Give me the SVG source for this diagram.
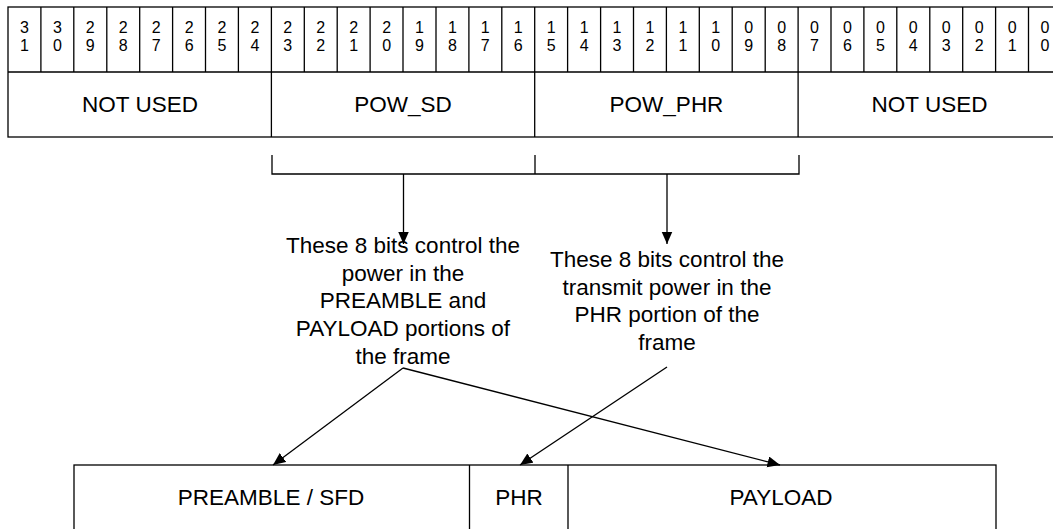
<svg xmlns="http://www.w3.org/2000/svg" width="1053" height="529" viewBox="0 0 1053 529">
<defs>
<marker id="ah" markerUnits="userSpaceOnUse" markerWidth="13" markerHeight="12" refX="12.5" refY="5.5" orient="auto">
<path d="M0,0 L12.5,5.5 L0,11 z" fill="#000"/>
</marker>
<style>
.ln{stroke:#000;stroke-width:1.3;fill:none}
.box{stroke:#000;stroke-width:1.3;fill:#fff}
.d{font-family:"Liberation Sans",Arial,sans-serif;font-size:16px;fill:#000;text-anchor:middle}
.t{font-family:"Liberation Sans",Arial,sans-serif;font-size:22.5px;fill:#000;text-anchor:middle}
</style>
</defs>
<rect width="1053" height="529" fill="#fff"/>
<g id="register">
<rect class="box" x="8" y="7" width="1053.4" height="130"/>
<path class="ln" d="M8,72 H1062 M40.9,7 V72 M73.8,7 V72 M106.8,7 V72 M139.7,7 V72 M172.6,7 V72 M205.5,7 V72 M238.4,7 V72 M271.4,7 V137 M304.3,7 V72 M337.2,7 V72 M370.1,7 V72 M403,7 V72 M436,7 V72 M468.9,7 V72 M501.8,7 V72 M534.7,7 V137 M567.6,7 V72 M600.6,7 V72 M633.5,7 V72 M666.4,7 V72 M699.3,7 V72 M732.2,7 V72 M765.2,7 V72 M798.1,7 V137 M831,7 V72 M863.9,7 V72 M896.8,7 V72 M929.8,7 V72 M962.7,7 V72 M995.6,7 V72 M1028.5,7 V72"/>
<g class="d">
<text x="24.5" y="32.5">3</text><text x="24.5" y="50.5">1</text>
<text x="57.4" y="32.5">3</text><text x="57.4" y="50.5">0</text>
<text x="90.3" y="32.5">2</text><text x="90.3" y="50.5">9</text>
<text x="123.2" y="32.5">2</text><text x="123.2" y="50.5">8</text>
<text x="156.1" y="32.5">2</text><text x="156.1" y="50.5">7</text>
<text x="189.1" y="32.5">2</text><text x="189.1" y="50.5">6</text>
<text x="222" y="32.5">2</text><text x="222" y="50.5">5</text>
<text x="254.9" y="32.5">2</text><text x="254.9" y="50.5">4</text>
<text x="287.8" y="32.5">2</text><text x="287.8" y="50.5">3</text>
<text x="320.7" y="32.5">2</text><text x="320.7" y="50.5">2</text>
<text x="353.7" y="32.5">2</text><text x="353.7" y="50.5">1</text>
<text x="386.6" y="32.5">2</text><text x="386.6" y="50.5">0</text>
<text x="419.5" y="32.5">1</text><text x="419.5" y="50.5">9</text>
<text x="452.4" y="32.5">1</text><text x="452.4" y="50.5">8</text>
<text x="485.3" y="32.5">1</text><text x="485.3" y="50.5">7</text>
<text x="518.3" y="32.5">1</text><text x="518.3" y="50.5">6</text>
<text x="551.2" y="32.5">1</text><text x="551.2" y="50.5">5</text>
<text x="584.1" y="32.5">1</text><text x="584.1" y="50.5">4</text>
<text x="617" y="32.5">1</text><text x="617" y="50.5">3</text>
<text x="649.9" y="32.5">1</text><text x="649.9" y="50.5">2</text>
<text x="682.9" y="32.5">1</text><text x="682.9" y="50.5">1</text>
<text x="715.8" y="32.5">1</text><text x="715.8" y="50.5">0</text>
<text x="748.7" y="32.5">0</text><text x="748.7" y="50.5">9</text>
<text x="781.6" y="32.5">0</text><text x="781.6" y="50.5">8</text>
<text x="814.5" y="32.5">0</text><text x="814.5" y="50.5">7</text>
<text x="847.5" y="32.5">0</text><text x="847.5" y="50.5">6</text>
<text x="880.4" y="32.5">0</text><text x="880.4" y="50.5">5</text>
<text x="913.3" y="32.5">0</text><text x="913.3" y="50.5">4</text>
<text x="946.2" y="32.5">0</text><text x="946.2" y="50.5">3</text>
<text x="979.1" y="32.5">0</text><text x="979.1" y="50.5">2</text>
<text x="1012.1" y="32.5">0</text><text x="1012.1" y="50.5">1</text>
<text x="1045" y="32.5">0</text><text x="1045" y="50.5">0</text>
</g>
</g>
<g id="field-notused-hi"><text class="t" x="140" y="112">NOT USED</text></g>
<g id="field-pow-sd"><text class="t" x="403" y="112">POW_SD</text></g>
<g id="field-pow-phr"><text class="t" x="666.5" y="112">POW_PHR</text></g>
<g id="field-notused-lo"><text class="t" x="929.5" y="112">NOT USED</text></g>
<g id="note-sd">
<text class="t" x="403" y="253"><tspan x="403">These 8 bits control the</tspan><tspan x="403" dy="27.7">power in the</tspan><tspan x="403" dy="27.7">PREAMBLE and</tspan><tspan x="403" dy="27.7">PAYLOAD portions of</tspan><tspan x="403" dy="27.7">the frame</tspan></text>
</g>
<g id="note-phr">
<text class="t" x="667" y="267"><tspan x="667">These 8 bits control the</tspan><tspan x="667" dy="27.7">transmit power in the</tspan><tspan x="667" dy="27.7">PHR portion of the</tspan><tspan x="667" dy="27.7">frame</tspan></text>
</g>
<g id="frame">
<rect class="box" x="74" y="465" width="922" height="80"/>
<path class="ln" d="M469.5,465 V545 M568,465 V545"/>
<text class="t" x="271" y="505">PREAMBLE / SFD</text>
<text class="t" x="519" y="505">PHR</text>
<text class="t" x="781" y="505">PAYLOAD</text>
</g>
<g id="connectors">
<path class="ln" d="M272,155 V174 H799 V155 M535,155 V174"/>
<path class="ln" d="M403.5,174 V244" marker-end="url(#ah)"/>
<path class="ln" d="M667,174 V244" marker-end="url(#ah)"/>
<path class="ln" d="M403,368 L273,465" marker-end="url(#ah)"/>
<path class="ln" d="M403,368 L780,465" marker-end="url(#ah)"/>
<path class="ln" d="M667,367 L520,465" marker-end="url(#ah)"/>
</g>
</svg>
